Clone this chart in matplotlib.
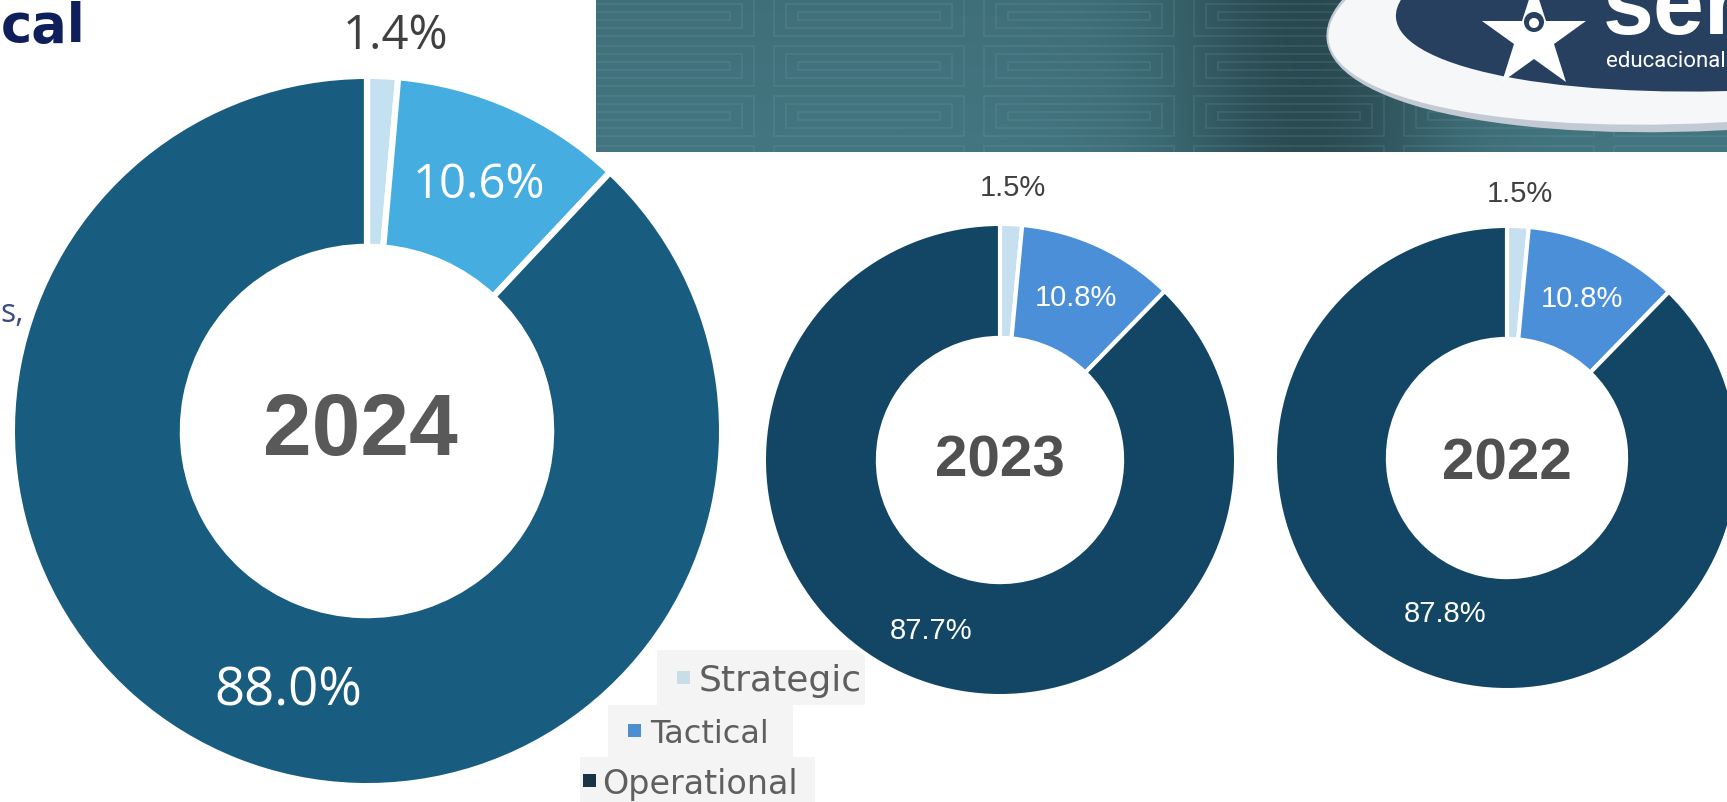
import numpy as np
import matplotlib
matplotlib.use("Agg")
import matplotlib.pyplot as plt
from matplotlib.patches import Rectangle, Ellipse, Circle

W, H, DPI = 1727, 802, 100

# ---------------- data ----------------
categories = ["Strategic", "Tactical", "Operational"]
years = ["2024", "2023", "2022"]
share_2024 = [1.4, 10.6, 88.0]
share_2023 = [1.5, 10.8, 87.7]
share_2022 = [1.5, 10.8, 87.8]

colors_2024 = ["#c3e1f1", "#46ade0", "#185d80"]
colors_old = ["#c6e0f0", "#4a8fd8", "#124664"]
legend_colors = ["#c8dde6", "#4b8fd0", "#1a3345"]

fig = plt.figure(figsize=(W / DPI, H / DPI), dpi=DPI)
fig.patch.set_facecolor("white")
bg = fig.add_axes([0, 0, 1, 1])
bg.axis("off")

# ---------------- banner (decorative) ----------------
bx0, bx1, by1 = 596, 1727, 152
nx, ny = 500, 80
xs = np.linspace(0, 1, nx)
ys = np.linspace(0, 1, ny)
base = np.array([0.25, 0.44, 0.48])
img = np.ones((ny, nx, 3)) * base
dark = 0.36 * np.exp(-((xs - 0.63) / 0.12) ** 2)
img *= (1 - dark)[None, :, None]
img *= (1 + 0.05 * ys)[:, None, None]
img = np.clip(img, 0, 1)
bg.imshow(img, extent=[bx0, bx1, by1, 0], aspect="auto", zorder=0,
          interpolation="bilinear")
clip_rect = Rectangle((bx0, 0), bx1 - bx0, by1, transform=bg.transData,
                      facecolor="none", edgecolor="none")
bg.add_patch(clip_rect)
for row in range(4):
    for col in range(7):
        x0 = bx0 - 40 + col * 210
        y0 = -10 + row * 50
        for k in range(3):
            r = Rectangle((x0 + 8 + k * 12, y0 + 6 + k * 8), 190 - k * 24,
                          40 - k * 16, facecolor="none",
                          edgecolor=(0.5, 0.68, 0.72), lw=1.3, alpha=0.16,
                          zorder=1)
            bg.add_patch(r)
            r.set_clip_path(clip_rect)

sw_shadow = Ellipse((1800, -10), 2 * 476, 2 * 134, angle=-6,
                    facecolor="#c3cad3", edgecolor="none", zorder=2)
sw_white = Ellipse((1798, -10), 2 * 472, 2 * 126, angle=-6,
                   facecolor="#f5f7f9", edgecolor="none", zorder=3)
sw_navy = Ellipse((1790, -10), 2 * 395, 2 * 98, angle=-4,
                  facecolor="#27405f", edgecolor="none", zorder=4)
for p in (sw_shadow, sw_white, sw_navy):
    bg.add_patch(p)
    p.set_clip_path(clip_rect)
bg.plot([1534], [38], marker="*", ms=78, color="white", zorder=5,
        markeredgewidth=0)
bg.add_patch(Circle((1534, 22), 10, facecolor="#27405f", zorder=6))
bg.add_patch(Circle((1534, 23), 5, facecolor="white", zorder=7))
bg.text(1603, 34, "ser", fontsize=66, fontweight="bold", color="white",
        family="Liberation Sans", ha="left", va="baseline", zorder=7)
bg.text(1606, 67, "educacional", fontsize=16, color="white",
        family=["Liberation Sans Narrow", "Roboto"], ha="left",
        va="baseline", zorder=7)

# ---------------- slide fragments ----------------
bg.text(1, 42, "cal", fontsize=38, fontweight="bold", color="#0e1f5b",
        family="DejaVu Sans", ha="left", va="baseline")
bg.text(0, 322, "s,", fontsize=23, color="#3c4c7c", family="Open Sans",
        ha="left", va="baseline")

bg.set_xlim(0, W)
bg.set_ylim(H, 0)


# ---------------- donuts ----------------
def donut(values, colors, year, cx, cy, R, Rin, lw, lab_font, lab_sizes,
          out_r, in_r, big_r, year_size, year_color, year_dy=0.0,
          year_dx=0.0, out_dtheta=0.0, big_dtheta=0.0):
    pad = lw * DPI / 72 / 2
    Rp = R + pad
    ax = fig.add_axes([(cx - Rp) / W, 1 - (cy + Rp) / H, 2 * Rp / W, 2 * Rp / H])
    width = (R - Rin) / Rp
    ax.pie(values, colors=colors, startangle=90, counterclock=False, radius=1,
           wedgeprops=dict(width=width, edgecolor="white", linewidth=lw))
    ax.set_xlim(-1, 1)
    ax.set_ylim(-1, 1)
    ax.set_aspect("equal")
    ax.axis("off")
    frac = np.asarray(values) / np.sum(values)
    mids = 2 * np.pi * (np.cumsum(frac) - frac / 2)
    mids[0] += np.deg2rad(out_dtheta)
    mids[2] += np.deg2rad(big_dtheta)
    radii = [out_r, in_r, big_r]
    for i, (v, th) in enumerate(zip(values, mids)):
        col = "#404040" if i == 0 else "white"
        ax.text(radii[i] * np.sin(th), radii[i] * np.cos(th), f"{v:.1f}%",
                color=col, fontsize=lab_sizes[i], family=lab_font,
                ha="center", va="center_baseline")
    ax.text(year_dx, year_dy, year, fontsize=year_size, fontweight="bold",
            color=year_color, family="Liberation Sans", ha="center",
            va="center_baseline")
    return ax


donut(share_2024, colors_2024, years[0], 367, 431, 352, 181, 4.5,
      "Open Sans", [34, 34, 38], 1.13, 0.775, 0.75, 63, "#595959",
      0.02, -0.02, 1.5, -4.5)
donut(share_2023, colors_old, years[1], 1000, 460, 234, 120, 3.0,
      "Liberation Sans", [21, 21, 21], 1.165, 0.77, 0.77, 42, "#505050",
      0.02)
donut(share_2022, colors_old, years[2], 1507, 458, 230, 117, 3.0,
      "Liberation Sans", [21, 21, 21], 1.15, 0.77, 0.71, 42, "#505050",
      0.0, 0.0, 0.0, 0.0)

# ---------------- legend (pasted boxes) ----------------
boxes = [(657, 650, 208, 55), (608, 705, 185, 52), (580, 757, 235, 45)]
marks = [(677, 678), (628, 731), (583, 781)]
texts_x = [699, 650, 602]
legend_sizes = [26, 23, 24]
for lab, col, (x, y, w, h), (mx, my), tx, fs in zip(
        categories, legend_colors, boxes, marks, texts_x, legend_sizes):
    bg.add_patch(Rectangle((x, y), w, h, facecolor="#f4f4f4",
                           edgecolor="none", zorder=1))
    bg.add_patch(Rectangle((mx, my - 7), 13, 13, facecolor=col,
                           edgecolor="none", zorder=2))
    bg.text(tx, my, lab, fontsize=fs, color="#5f5f5f", family="DejaVu Sans",
            ha="left", va="center_baseline", zorder=3)

fig.savefig("out.png", dpi=DPI, facecolor="white")
